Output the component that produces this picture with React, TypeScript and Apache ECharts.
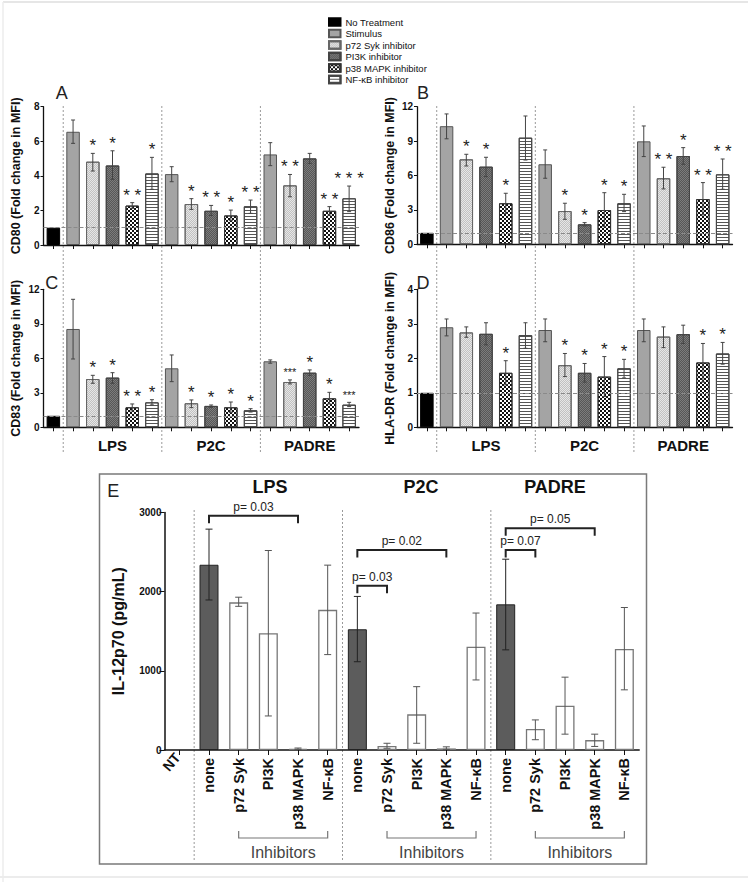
import React, { useEffect, useRef } from "react";
import * as echarts from "echarts";

const FONT = '"Liberation Sans", Arial, Helvetica, sans-serif';
const THIN = '"Liberation Sans Narrow", "Liberation Sans", Arial, sans-serif';

const treatments = ["No Treatment", "Stimulus", "p72 Syk inhibitor", "PI3K inhibitor", "p38 MAPK inhibitor", "NF-κB inhibitor"];
const groups = ["LPS", "P2C", "PADRE"];
// which treatment each of the 16 bars belongs to (NT, then 5 bars per stimulus)
const treatmentOfBar = [0, 1, 2, 3, 4, 5, 1, 2, 3, 4, 5, 1, 2, 3, 4, 5];

// Panel A: CD80
const cd80Mean = [1, 6.55, 4.82, 4.6, 2.28, 4.14, 4.1, 2.37, 1.98, 1.71, 2.24, 5.24, 3.45, 5.01, 1.98, 2.7];
const cd80Hi = [null, 7.23, 5.3, 5.45, 2.45, 5.07, 4.53, 2.68, 2.29, 2.02, 2.6, 5.92, 4.08, 5.3, 2.22, 3.41];
const cd80Lo = [null, 5.88, 4.28, 3.8, 2.12, 3.22, 3.66, 2.06, 1.71, 1.41, 1.83, 4.59, 2.79, 4.72, 1.73, 1.93];
const cd80Stars = ["", "", "*", "*", "**", "*", "", "*", "**", "*", "**", "", "**", "", "**", "***"];

// Panel B: CD86
const cd86Mean = [1, 10.3, 7.41, 6.77, 3.58, 9.3, 6.98, 2.9, 1.74, 2.99, 3.58, 8.98, 5.76, 7.7, 3.95, 6.1];
const cd86Hi = [null, 11.37, 7.85, 7.59, 4.45, 11.19, 8.23, 3.58, 1.89, 4.5, 4.36, 10.32, 6.72, 8.43, 5.38, 7.44];
const cd86Lo = [null, 9.2, 6.83, 5.9, 2.7, 7.35, 5.76, 2.18, 1.6, 1.54, 2.85, 7.65, 4.83, 6.98, 2.56, 4.8];
const cd86Stars = ["", "", "*", "*", "*", "", "", "*", "*", "*", "*", "", "**", "*", "**", "**"];

// Panel C: CD83
const cd83Mean = [1, 8.55, 4.2, 4.32, 1.74, 2.17, 5.13, 2.09, 1.86, 1.74, 1.48, 5.74, 3.94, 4.75, 2.52, 1.97];
const cd83Hi = [null, 11.13, 4.52, 4.75, 2.03, 2.4, 6.29, 2.38, 1.94, 2.2, 1.62, 5.86, 4.12, 4.99, 3.04, 2.17];
const cd83Lo = [null, 5.94, 3.83, 3.83, 1.42, 1.94, 3.97, 1.71, 1.74, 1.3, 1.33, 5.57, 3.77, 4.52, 2.03, 1.8];
const cd83Stars = ["", "", "*", "*", "**", "*", "", "*", "*", "*", "*", "", "***", "*", "*", "***"];

// Panel D: HLA-DR
const hladrMean = [1, 2.9, 2.75, 2.71, 1.58, 2.67, 2.82, 1.8, 1.58, 1.47, 1.71, 2.82, 2.63, 2.7, 1.88, 2.14];
const hladrHi = [null, 3.14, 2.91, 3.03, 1.93, 3.03, 3.14, 2.14, 1.85, 2.05, 1.97, 3.14, 2.91, 2.96, 2.43, 2.46];
const hladrLo = [null, 2.65, 2.61, 2.39, 1.23, 2.29, 2.48, 1.47, 1.31, 0.89, 1.43, 2.48, 2.31, 2.43, 1.31, 1.83];
const hladrStars = ["", "", "", "", "*", "", "", "*", "*", "*", "*", "", "", "", "*", "*"];

// Panel E: IL-12p70
const eCategories = ["NT", "none", "p72 Syk", "PI3K", "p38 MAPK", "NF-κB", "none", "p72 Syk", "PI3K", "p38 MAPK", "NF-κB", "none", "p72 Syk", "PI3K", "p38 MAPK", "NF-κB"];
const il12Mean = [0, 2340, 1865, 1475, 15, 1770, 1525, 50, 450, 20, 1305, 1840, 265, 560, 125, 1275];
const il12Hi = [null, 2790, 1930, 2520, 25, 2335, 1940, 85, 800, 40, 1730, 2410, 380, 920, 200, 1800];
const il12Lo = [null, 1895, 1815, 430, 8, 1205, 1115, 22, 85, 8, 885, 1265, 130, 200, 45, 760];
const pFrom = [1, 6, 6, 11, 11];
const pTo = [4, 9, 7, 14, 12];
const pLevel = [2960, 2526, 2075, 2800, 2526];
const pLabel = ["p= 0.03", "p= 0.02", "p= 0.03", "p= 0.05", "p= 0.07"];

const panels = [
  { letter: "A", name: "CD80 (Fold change in MFI)", mean: cd80Mean, hi: cd80Hi, lo: cd80Lo, stars: cd80Stars, max: 8, interval: 2, grid: { left: 43.5, top: 106.7, width: 315.5, height: 138.3 }, smallTriple: false },
  { letter: "B", name: "CD86 (Fold change in MFI)", mean: cd86Mean, hi: cd86Hi, lo: cd86Lo, stars: cd86Stars, max: 12, interval: 3, grid: { left: 417, top: 106.7, width: 315.5, height: 137.6 }, smallTriple: false },
  { letter: "C", name: "CD83 (Fold change in MFI)", mean: cd83Mean, hi: cd83Hi, lo: cd83Lo, stars: cd83Stars, max: 12, interval: 3, grid: { left: 43.5, top: 289.3, width: 315.5, height: 138 }, smallTriple: true },
  { letter: "D", name: "HLA-DR (Fold change in MFI)", mean: hladrMean, hi: hladrHi, lo: hladrLo, stars: hladrStars, max: 4, interval: 1, grid: { left: 417, top: 289.3, width: 315.5, height: 138 }, smallTriple: false },
];

const barStyles: any[] = [
  { color: "#000000", borderColor: "#000000" },
  { color: "#a4a4a4", borderColor: "#555555" },
  { color: "#e6e6e6", borderColor: "#666666", decal: { symbol: "rect", symbolSize: 1, color: "rgba(0,0,0,0.16)", dashArrayX: [[1, 1], [0, 1, 1, 0]], dashArrayY: [1, 0] } },
  { color: "#7c7c7c", borderColor: "#444444", decal: { symbol: "rect", symbolSize: 1, color: "rgba(0,0,0,0.3)", dashArrayX: [[1, 1], [0, 1, 1, 0]], dashArrayY: [1, 0] } },
  { color: "#ffffff", borderColor: "#333333", decal: { symbol: "rect", symbolSize: 1, color: "#111111", dashArrayX: [[2, 2], [0, 2, 2, 0]], dashArrayY: [2, 0] } },
  { color: "#ffffff", borderColor: "#444444", decal: { symbol: "rect", symbolSize: 1, color: "#555555", dashArrayX: [1, 0], dashArrayY: [1, 2] } },
];

function errorSeries(axis: number, mean: number[], lo: (number | null)[], hi: (number | null)[], cap: number, colorOf: (i: number) => string) {
  return {
    type: "custom",
    xAxisIndex: axis,
    yAxisIndex: axis,
    z: 10,
    silent: true,
    data: mean.map((m, i) => [i, lo[i] == null ? m : lo[i], hi[i] == null ? m : hi[i]]),
    encode: { x: 0, y: [1, 2] },
    renderItem: (params: any, api: any) => {
      const i = params.dataIndex;
      const children: any[] = [];
      const h = hi[i];
      const l = lo[i];
      const col = colorOf(i);
      if (h != null && l != null) {
        const t = api.coord([i, h]);
        const b = api.coord([i, l]);
        children.push({ type: "line", shape: { x1: t[0], y1: t[1], x2: b[0], y2: b[1] }, style: { stroke: col, lineWidth: 1 } });
        children.push({ type: "line", shape: { x1: t[0] - cap, y1: t[1], x2: t[0] + cap, y2: t[1] }, style: { stroke: col, lineWidth: 1 } });
        children.push({ type: "line", shape: { x1: b[0] - cap, y1: b[1], x2: b[0] + cap, y2: b[1] }, style: { stroke: col, lineWidth: 1 } });
      }
      return { type: "group", children };
    },
  };
}

function buildOption() {
  const grids: any[] = [];
  const xAxes: any[] = [];
  const yAxes: any[] = [];
  const series: any[] = [];
  const axisLine = { show: true, lineStyle: { color: "#111", width: 1.3 } };
  const plain = (v: number) => String(v);

  panels.forEach((p, pi) => {
    grids.push({ ...p.grid, containLabel: false, outerBoundsMode: "none" });
    xAxes.push({
      type: "category",
      gridIndex: pi,
      data: p.mean.map((_, i) => String(i)),
      axisLine,
      axisTick: { show: true, alignWithLabel: true, length: 4, lineStyle: { color: "#111" } },
      axisLabel: { show: false },
      splitLine: { show: false },
    });
    yAxes.push({
      type: "value",
      gridIndex: pi,
      min: 0,
      max: p.max,
      interval: p.interval,
      name: p.name,
      nameLocation: "middle",
      nameGap: 21,
      nameTextStyle: { fontFamily: FONT, fontSize: 12.5, fontWeight: "bold", color: "#111" },
      axisLine,
      axisTick: { show: true, length: 3, lineStyle: { color: "#111" } },
      axisLabel: { fontFamily: FONT, fontSize: 10, fontWeight: "bold", color: "#111", margin: 4, formatter: plain },
      splitLine: { show: false },
    });
    treatments.forEach((t, ti) => {
      series.push({
        type: "bar",
        name: t,
        xAxisIndex: pi,
        yAxisIndex: pi,
        barWidth: 13.5,
        barGap: "-100%",
        silent: true,
        data: p.mean.map((v, i) => (treatmentOfBar[i] === ti ? v : null)),
        itemStyle: { ...barStyles[ti], borderWidth: 1 },
        markLine:
          ti === 0
            ? {
                silent: true,
                symbol: "none",
                label: { show: false },
                lineStyle: { type: "dashed", color: "#8a8a8a", width: 1 },
                data: [{ yAxis: 1 }],
              }
            : undefined,
      });
    });
    series.push(errorSeries(pi, p.mean, p.lo, p.hi, 2, () => "#444"));
  });

  // Panel E
  grids.push({ left: 164.5, top: 512.5, width: 474.7, height: 237.5, containLabel: false, outerBoundsMode: "none" });
  xAxes.push({
    type: "category",
    gridIndex: 4,
    data: eCategories,
    axisLine: { show: true, lineStyle: { color: "#111", width: 1.5 } },
    axisTick: { show: true, alignWithLabel: true, length: 5, lineStyle: { color: "#111" } },
    axisLabel: {
      interval: 0,
      rotate: 90,
      margin: 8,
      fontFamily: FONT,
      fontSize: 14.5,
      fontWeight: "bold",
      color: "#111",
      formatter: (v: string, i: number) => (i === 0 ? "" : v),
    },
    splitLine: { show: false },
  });
  yAxes.push({
    type: "value",
    gridIndex: 4,
    min: 0,
    max: 3000,
    interval: 1000,
    name: "IL-12p70 (pg/mL)",
    nameLocation: "middle",
    nameGap: 38,
    nameTextStyle: { fontFamily: FONT, fontSize: 16, fontWeight: "bold", color: "#111" },
    axisLine: { show: true, lineStyle: { color: "#111", width: 1.5 } },
    axisTick: { show: true, length: 5, lineStyle: { color: "#111" } },
    axisLabel: { fontFamily: FONT, fontSize: 10, fontWeight: "bold", color: "#111", margin: 3, formatter: plain },
    splitLine: { show: false },
  });
  series.push({
    type: "bar",
    name: "IL-12 none",
    xAxisIndex: 4,
    yAxisIndex: 4,
    barWidth: 19,
    barGap: "-100%",
    silent: true,
    data: il12Mean.map((v, i) => (eCategories[i] === "none" ? v : null)),
    itemStyle: { color: "#5c5c5c", borderColor: "#222", borderWidth: 1 },
  });
  series.push({
    type: "bar",
    name: "IL-12 inhibitor",
    xAxisIndex: 4,
    yAxisIndex: 4,
    barWidth: 19,
    barGap: "-100%",
    silent: true,
    data: il12Mean.map((v, i) => (eCategories[i] !== "none" && i > 0 ? v : null)),
    itemStyle: { color: "#ffffff", borderColor: "#777", borderWidth: 1.3 },
  });
  series.push(errorSeries(4, il12Mean, il12Lo, il12Hi, 3.5, (i) => (eCategories[i] === "none" ? "#222" : "#555")));

  return {
    animation: false,
    backgroundColor: "#ffffff",
    legend: {
      data: treatments,
      orient: "vertical",
      left: 323,
      top: 12,
      itemWidth: 11.5,
      itemHeight: 7.5,
      itemGap: 1.5,
      icon: "rect",
      selectedMode: false,
      textStyle: { fontFamily: FONT, fontSize: 9.5, color: "#111", lineHeight: 10 },
    },
    grid: grids,
    xAxis: xAxes,
    yAxis: yAxes,
    series,
  };
}

function buildGraphics(chart: any) {
  const px = (ax: number, v: number) => chart.convertToPixel({ xAxisIndex: ax }, v) as number;
  const py = (ax: number, v: number) => chart.convertToPixel({ yAxisIndex: ax }, v) as number;
  const els: any[] = [];

  // faint scan frame
  els.push({ type: "line", shape: { x1: 3, y1: 2, x2: 748, y2: 2 }, style: { stroke: "#e6e6e6", lineWidth: 2 } });
  els.push({ type: "line", shape: { x1: 3, y1: 2, x2: 3, y2: 882 }, style: { stroke: "#ececec", lineWidth: 1.5 } });
  els.push({ type: "line", shape: { x1: 0, y1: 877, x2: 748, y2: 877 }, style: { stroke: "#ececec", lineWidth: 2 } });

  // panel letters
  const letterPos = [[61.7, 93], [423, 93], [51.7, 283], [423, 283]];
  panels.forEach((p, i) => {
    els.push({ type: "text", x: letterPos[i][0], y: letterPos[i][1], style: { text: p.letter, fontFamily: THIN, fontSize: 18, fill: "#222", align: "center", verticalAlign: "middle" } });
  });
  els.push({ type: "text", x: 113.3, y: 490.7, style: { text: "E", fontFamily: THIN, fontSize: 18, fill: "#222", align: "center", verticalAlign: "middle" } });

  // significance asterisks above the error bars
  panels.forEach((p, pi) => {
    p.stars.forEach((s, i) => {
      if (!s) return;
      const top = p.hi[i] != null ? (p.hi[i] as number) : p.mean[i];
      const small = p.smallTriple && s.length === 3;
      els.push({
        type: "text",
        z: 50,
        x: px(pi, i),
        y: py(pi, top) + (small ? -2 : 1),
        style: {
          text: small ? s : s.split("").join(" "),
          fontFamily: FONT,
          fontSize: small ? 11 : 17,
          fill: "#222",
          align: "center",
          verticalAlign: "bottom",
        },
      });
    });
  });

  // dotted group separators for A/C (axis 0) and B/D (axis 1)
  [0, 1].forEach((ax) => {
    [0, 5, 10].forEach((k) => {
      const x = (px(ax, k) + px(ax, k + 1)) / 2;
      els.push({ type: "line", shape: { x1: x, y1: 106, x2: x, y2: 452 }, style: { stroke: "#9a9a9a", lineWidth: 1, lineDash: [2, 2] } });
    });
  });
  [0, 5, 10].forEach((k) => {
    const x = (px(4, k) + px(4, k + 1)) / 2;
    els.push({ type: "line", shape: { x1: x, y1: 510, x2: x, y2: 860 }, style: { stroke: "#9a9a9a", lineWidth: 1, lineDash: [2, 2] } });
  });

  // group labels under C and D
  [2, 3].forEach((ax) => {
    groups.forEach((g, gi) => {
      els.push({ type: "text", x: px(ax, 3 + gi * 5), y: 445, style: { text: g, fontFamily: FONT, fontSize: 15, fontWeight: "bold", fill: "#111", align: "center", verticalAlign: "middle" } });
    });
  });

  // box around E
  els.push({ type: "rect", shape: { x: 99.5, y: 474, width: 547, height: 390 }, style: { fill: "none", stroke: "#7a7a7a", lineWidth: 1.5 } });

  // E group titles
  const eTitleX = [270, 421, 555];
  groups.forEach((g, gi) => {
    els.push({ type: "text", x: eTitleX[gi], y: 487, style: { text: g, fontFamily: FONT, fontSize: 18, fontWeight: "bold", fill: "#111", align: "center", verticalAlign: "middle" } });
  });

  // p-value brackets
  pFrom.forEach((f, i) => {
    const x1 = px(4, f);
    const x2 = px(4, pTo[i]);
    const y = py(4, pLevel[i]);
    els.push({ type: "polyline", shape: { points: [[x1, y + 7.5], [x1, y], [x2, y], [x2, y + 7.5]] }, style: { stroke: "#222", lineWidth: 2, fill: "none" } });
    els.push({ type: "text", x: (x1 + x2) / 2, y: y - 3, style: { text: pLabel[i], fontFamily: FONT, fontSize: 12, fill: "#222", align: "center", verticalAlign: "bottom" } });
  });

  // Inhibitors brackets
  [0, 5, 10].forEach((k) => {
    const x1 = px(4, k + 2);
    const x2 = px(4, k + 5);
    const y = 838;
    els.push({ type: "polyline", shape: { points: [[x1, y - 7], [x1, y], [x2, y], [x2, y - 7]] }, style: { stroke: "#777", lineWidth: 1.2, fill: "none" } });
    els.push({ type: "text", x: (x1 + x2) / 2, y: 852, style: { text: "Inhibitors", fontFamily: FONT, fontSize: 16, fill: "#444", align: "center", verticalAlign: "middle" } });
  });

  // NT label (slanted)
  els.push({ type: "text", x: px(4, 0) - 8, y: 762, rotation: (50 * Math.PI) / 180, style: { text: eCategories[0], fontFamily: FONT, fontSize: 14, fontWeight: "bold", fill: "#111", align: "center", verticalAlign: "middle" } });

  return els;
}

export default function App() {
  const ref = useRef<HTMLDivElement>(null);
  useEffect(() => {
    if (!ref.current) return;
    const chart = echarts.init(ref.current, null, { renderer: "svg" });
    chart.setOption(buildOption() as any);
    chart.setOption({ graphic: { elements: buildGraphics(chart) } } as any);
    return () => chart.dispose();
  }, []);
  return <div ref={ref} style={{ position: "fixed", left: 0, top: 0, width: 748, height: 882, background: "#fff" }} />;
}
